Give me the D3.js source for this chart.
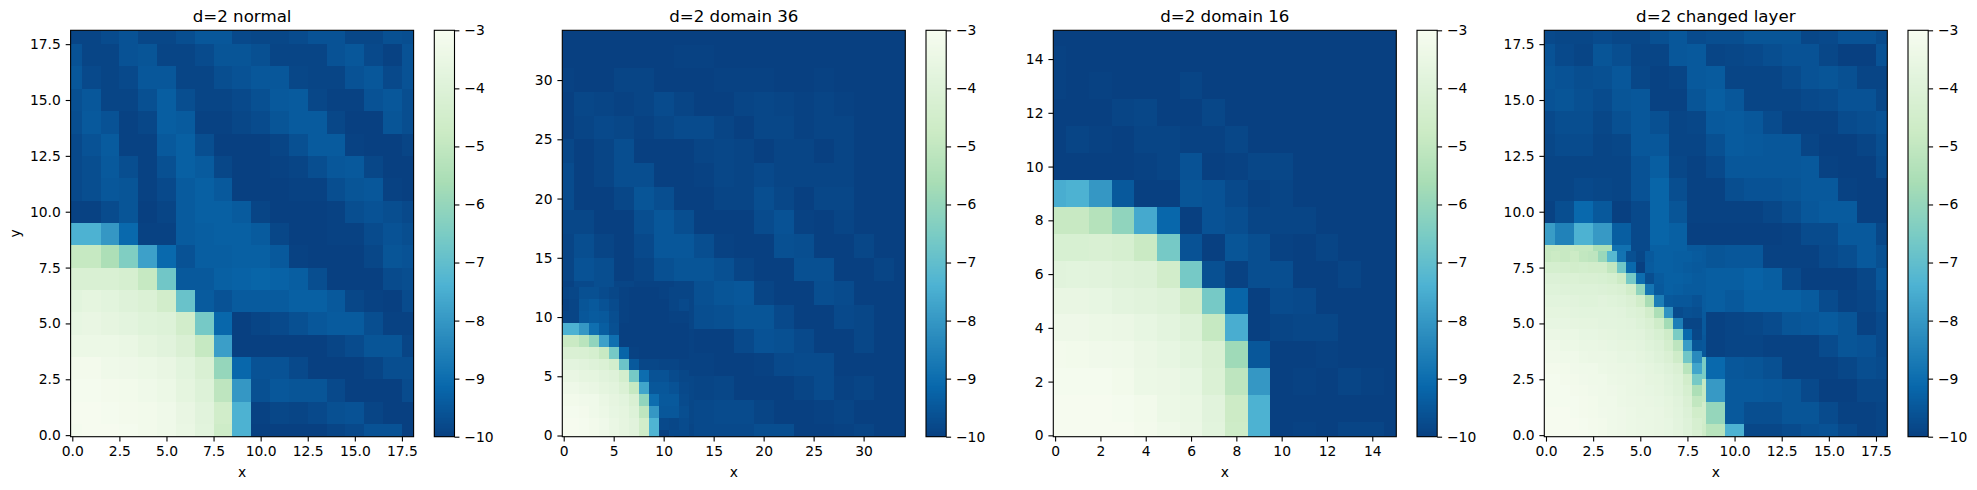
<!DOCTYPE html>
<html>
<head>
<meta charset="utf-8">
<script src="https://cdn.jsdelivr.net/npm/d3@7"></script>
<style>
    html, body { margin: 0; padding: 0; background: #fff; }
    text { font-family: "DejaVu Sans", sans-serif; fill: #000; }
    .tick line, .frame { stroke: #000; stroke-width: 1.1; }
    .frame { fill: none; }
    .cell { shape-rendering: crispEdges; }
</style>
</head>
<body>
<div id="chart"></div>
<script>
// all grids are listed top row first, left column first; null = hidden by the finer grid on top

// d=2 normal, cell centres 0..18
const normalGrid = [
    [-9.9,-9.9,-9.75,-9.6,-9.85,-9.85,-9.7,-9.5,-9.5,-9.8,-9.85,-9.85,-9.75,-9.6,-9.6,-9.85,-9.85,-9.65,-9.7],
    [-9.6,-9.9,-9.9,-9.6,-9.55,-9.9,-9.9,-9.75,-9.55,-9.55,-9.65,-9.9,-9.9,-9.9,-9.6,-9.5,-9.8,-9.95,-9.6],
    [-9.5,-9.8,-9.9,-9.8,-9.5,-9.5,-9.9,-9.9,-9.7,-9.6,-9.5,-9.5,-9.85,-9.9,-9.9,-9.6,-9.5,-9.8,-9.6],
    [-9.65,-9.5,-9.9,-9.9,-9.65,-9.35,-9.7,-9.9,-9.9,-9.8,-9.65,-9.45,-9.4,-9.85,-9.95,-9.95,-9.6,-9.5,-9.7],
    [-9.7,-9.45,-9.6,-9.95,-9.85,-9.35,-9.4,-9.95,-9.95,-9.85,-9.75,-9.55,-9.4,-9.4,-9.85,-10,-10,-9.55,-9.7],
    [-9.8,-9.6,-9.4,-9.95,-9.95,-9.45,-9.3,-9.7,-10,-10,-10,-9.9,-9.65,-9.4,-9.4,-9.95,-10,-10,-9.9],
    [-9.8,-9.7,-9.45,-9.7,-9.95,-9.65,-9.3,-9.4,-9.85,-10,-10,-9.95,-9.9,-9.7,-9.5,-9.45,-9.85,-10,-10],
    [-9.8,-9.7,-9.5,-9.55,-9.95,-9.8,-9.4,-9.3,-9.45,-10,-10,-10,-9.95,-9.95,-9.7,-9.55,-9.5,-9.95,-10],
    [-9.95,-9.95,-9.75,-9.55,-10,-9.9,-9.4,-9.3,-9.3,-9.4,-9.9,-10,-10,-10,-9.95,-9.7,-9.6,-9.7,-9.8],
    [-7.4,-7.4,-8,-9.1,-9.95,-9.95,-9.4,-9.35,-9.3,-9.3,-9.4,-9.85,-10,-10,-9.95,-9.95,-9.75,-9.6,-9.7],
    [-4.9,-4.9,-5.5,-6.4,-7.8,-9.1,-9.6,-9.35,-9.35,-9.3,-9.3,-9.45,-9.95,-10,-10,-10,-9.85,-9.55,-9.6],
    [-4.2,-4.2,-4.2,-4.3,-4.9,-6.7,-9.45,-9.45,-9.3,-9.25,-9.2,-9.25,-9.35,-9.7,-10,-10,-10,-9.75,-9.7],
    [-3.8,-3.7,-3.8,-3.95,-4.1,-4.5,-6.85,-9.4,-9.6,-9.4,-9.4,-9.4,-9.3,-9.3,-9.45,-9.85,-9.95,-10,-9.75],
    [-3.6,-3.55,-3.65,-3.75,-3.9,-4,-4.5,-6.6,-9.15,-10,-9.9,-9.8,-9.65,-9.5,-9.4,-9.4,-9.7,-9.95,-9.95],
    [-3.4,-3.4,-3.4,-3.5,-3.7,-3.85,-4.15,-4.9,-7.85,-10,-10,-10,-10,-10,-9.9,-9.75,-9.55,-9.55,-9.9],
    [-3.15,-3.15,-3.3,-3.35,-3.4,-3.55,-3.8,-4.2,-6,-9.15,-9.6,-9.6,-9.8,-10,-10,-10,-9.9,-9.7,-9.7],
    [-3.1,-3.1,-3.15,-3.2,-3.3,-3.4,-3.7,-4,-5.1,-8,-9.65,-9.5,-9.55,-9.55,-9.8,-10,-10,-10,-9.75],
    [-3.05,-3.05,-3.1,-3.15,-3.2,-3.3,-3.55,-3.85,-4.55,-7.4,-9.95,-9.85,-9.9,-9.8,-9.65,-9.6,-9.9,-10,-10],
    [-3.1,-3.05,-3.05,-3.1,-3.2,-3.3,-3.5,-3.8,-4.65,-7.4,-10,-10,-10,-10,-9.9,-9.8,-9.6,-9.6,-10]
];

// d=2 domain 36, coarse cell centres 0,2,..,34
const domain36Coarse = [
    [-10,-10,-10,-10,-10,-10,-10,-10,-10,-10,-10,-10,-10,-10,-10,-10,-10,-10],
    [-10,-10,-10,-10,-10,-10,-9.95,-9.95,-10,-10,-10,-10,-10,-10,-10,-10,-10,-10],
    [-9.95,-10,-10,-9.9,-9.9,-10,-10,-10,-9.95,-9.95,-9.95,-10,-10,-9.95,-10,-10,-10,-10],
    [-10,-9.85,-9.9,-9.95,-9.9,-9.75,-9.9,-10,-10,-9.9,-9.85,-9.9,-9.95,-9.9,-9.95,-10,-10,-10],
    [-10,-9.9,-9.8,-9.85,-9.95,-9.85,-9.75,-9.75,-9.9,-10,-9.85,-9.85,-9.95,-9.9,-9.9,-10,-10,-10],
    [-9.85,-10,-9.9,-9.7,-10,-10,-10,-9.9,-9.85,-9.9,-10,-9.9,-9.9,-10,-9.9,-10,-10,-10],
    [-9.75,-10,-9.9,-9.7,-9.7,-10,-10,-9.95,-9.85,-9.9,-9.8,-9.9,-9.9,-9.9,-9.9,-10,-10,-10],
    [-9.75,-10,-10,-9.85,-9.55,-9.7,-10,-10,-9.9,-9.9,-9.7,-9.85,-10,-9.85,-9.85,-10,-10,-10],
    [-9.85,-9.85,-10,-10,-9.7,-9.5,-9.7,-10,-10,-10,-9.75,-9.6,-9.95,-10,-9.9,-10,-10,-10],
    [-9.9,-9.7,-9.9,-10,-9.8,-9.5,-9.5,-9.7,-9.95,-10,-10,-9.65,-9.7,-10,-10,-9.85,-10,-10],
    [-9.9,-9.6,-9.7,-10,-9.9,-9.65,-9.55,-9.55,-9.65,-9.9,-10,-10,-9.65,-9.65,-10,-10,-9.9,-10],
    [-9.95,-9.8,-9.7,-9.9,-9.95,-9.95,-9.9,-9.65,-9.55,-9.5,-9.9,-10,-10,-9.7,-9.75,-10,-10,-10],
    [null,null,null,null,null,null,-9.9,-9.7,-9.65,-9.55,-9.55,-9.8,-10,-10,-9.8,-9.85,-10,-10],
    [null,null,null,null,null,null,-9.95,-10,-10,-9.8,-9.6,-9.65,-9.8,-10,-10,-9.85,-10,-10],
    [null,null,null,null,null,null,-9.95,-9.95,-10,-10,-9.95,-9.8,-9.75,-9.75,-10,-10,-10,-10],
    [null,null,null,null,null,null,-9.85,-9.9,-9.85,-10,-10,-10,-9.9,-9.75,-9.95,-9.9,-10,-10],
    [null,null,null,null,null,null,-9.85,-9.8,-9.75,-9.75,-9.9,-10,-10,-9.95,-9.9,-10,-10,-10],
    [null,null,null,null,null,null,-9.9,-9.8,-9.8,-9.8,-9.7,-9.7,-10,-10,-9.95,-9.9,-10,-10]
];

// d=2 domain 36, fine cell centres 0..12
const domain36Fine = [
    [-9.9,-9.85,-9.65,-9.65,-9.75,-9.85,-9.95,-10,-10,-10,-9.95,-9.9,-9.9],
    [-9.95,-9.9,-9.55,-9.45,-9.6,-9.75,-9.95,-10,-10,-10,-10,-9.9,-9.8],
    [-9.9,-9.9,-9.5,-9.4,-9.45,-9.7,-9.95,-10,-10,-10,-10,-9.95,-9.95],
    [-7.4,-7.4,-8,-8.95,-9.35,-9.65,-10,-10,-10,-10,-10,-10,-10],
    [-4.8,-4.8,-5.2,-6.1,-7.8,-8.95,-10,-10,-10,-10,-10,-10,-10],
    [-4.15,-4.15,-4.2,-4.35,-4.85,-6.6,-9.2,-9.95,-10,-10,-10,-10,-10],
    [-3.75,-3.75,-3.85,-3.95,-4.1,-4.45,-6.8,-9.45,-9.85,-9.85,-9.9,-9.9,-9.95],
    [-3.55,-3.55,-3.65,-3.7,-3.85,-3.95,-4.45,-6.6,-9,-9.6,-9.6,-9.75,-9.85],
    [-3.35,-3.35,-3.45,-3.55,-3.7,-3.8,-4.1,-4.9,-7.7,-9.5,-9.5,-9.6,-9.8],
    [-3.2,-3.2,-3.25,-3.3,-3.5,-3.65,-3.8,-4.2,-6.1,-9,-9.45,-9.45,-9.75],
    [-3.1,-3.1,-3.15,-3.3,-3.4,-3.6,-3.7,-4,-5.1,-8,-9.5,-9.5,-9.7],
    [-3.05,-3.05,-3.1,-3.2,-3.3,-3.5,-3.65,-3.85,-4.55,-7.35,-9.8,-9.85,-9.75],
    [-3.05,-3.05,-3.1,-3.2,-3.35,-3.5,-3.65,-3.85,-4.65,-7.35,-10,-9.8,-9.8]
];

// d=2 domain 16, cell centres 0..15
const domain16Grid = [
    [-10,-10,-10,-10,-10,-10,-10,-10,-10,-10,-10,-10,-10,-10,-10,-10],
    [-9.95,-10,-10,-10,-10,-10,-10,-10,-10,-10,-10,-10,-10,-10,-10,-10],
    [-9.95,-10,-9.95,-10,-10,-10,-9.9,-10,-10,-10,-10,-10,-10,-10,-10,-10],
    [-10,-10,-10,-9.9,-9.85,-10,-10,-9.85,-10,-10,-10,-10,-10,-10,-10,-10],
    [-10,-9.9,-9.95,-10,-9.9,-9.9,-9.95,-9.95,-9.85,-10,-10,-10,-10,-10,-10,-10],
    [-10,-10,-10,-10,-9.95,-9.9,-9.6,-10,-9.95,-9.85,-9.85,-10,-10,-10,-10,-10],
    [-7.5,-7.4,-8,-9.45,-10,-10,-9.55,-9.6,-9.8,-9.95,-9.9,-10,-10,-10,-10,-10],
    [-4.85,-4.85,-5.3,-6.1,-7.6,-9.15,-10,-9.6,-9.7,-9.9,-9.9,-9.9,-10,-10,-10,-10],
    [-4.25,-4.25,-4.2,-4.3,-4.8,-6.6,-9.6,-10,-9.55,-9.7,-9.95,-10,-9.9,-10,-10,-10],
    [-3.85,-3.8,-3.85,-3.95,-4.05,-4.5,-6.6,-9.65,-9.95,-9.7,-9.7,-10,-10,-9.9,-10,-10],
    [-3.55,-3.55,-3.6,-3.75,-3.85,-3.95,-4.5,-6.6,-9.2,-10,-9.75,-9.8,-10,-10,-10,-10],
    [-3.35,-3.35,-3.4,-3.45,-3.6,-3.75,-4,-4.9,-7.5,-10,-9.9,-9.85,-9.85,-10,-10,-10],
    [-3.15,-3.2,-3.25,-3.3,-3.45,-3.6,-3.8,-4.2,-5.8,-9.5,-10,-10,-9.95,-10,-10,-10],
    [-3.1,-3.1,-3.1,-3.2,-3.4,-3.45,-3.6,-4.1,-5.1,-8,-10,-9.95,-10,-9.9,-9.95,-10],
    [-3.05,-3.05,-3.05,-3.1,-3.2,-3.4,-3.5,-3.85,-4.7,-7.4,-10,-10,-10,-10,-10,-10],
    [-3.05,-3.05,-3.05,-3.05,-3.15,-3.3,-3.45,-3.8,-4.65,-7.4,-10,-9.95,-10,-9.9,-9.9,-10]
];

// d=2 changed layer, coarse cell centres 0..18
const changedCoarse = [
    [-9.8,-9.85,-9.85,-9.75,-9.85,-9.85,-9.65,-9.5,-9.75,-9.7,-9.7,-9.55,-9.55,-9.55,-9.85,-9.8,-9.6,-9.6,-9.75],
    [-9.6,-9.8,-9.9,-9.55,-9.7,-9.9,-9.9,-9.5,-9.45,-9.9,-9.85,-9.8,-9.7,-9.6,-9.6,-9.85,-10,-10,-9.6],
    [-9.55,-9.6,-9.7,-9.65,-9.5,-9.85,-9.95,-9.9,-9.45,-9.4,-9.9,-9.9,-9.9,-9.75,-9.6,-9.55,-9.65,-9.9,-9.9],
    [-9.6,-9.55,-9.65,-9.75,-9.55,-9.5,-9.95,-9.95,-9.55,-9.35,-9.5,-9.9,-9.9,-9.9,-9.8,-9.75,-9.6,-9.6,-9.85],
    [-9.8,-9.7,-9.7,-9.85,-9.65,-9.5,-9.65,-9.9,-9.85,-9.45,-9.4,-9.5,-9.75,-9.95,-9.95,-9.95,-9.75,-9.7,-9.6],
    [-9.85,-9.75,-9.75,-9.9,-9.85,-9.5,-9.5,-9.9,-9.9,-9.65,-9.4,-9.45,-9.5,-9.5,-9.9,-10,-10,-9.9,-9.7],
    [-9.9,-9.9,-9.9,-9.9,-9.9,-9.6,-9.35,-9.85,-9.95,-9.8,-9.5,-9.5,-9.5,-9.5,-9.45,-9.95,-10,-10,-9.75],
    [-9.9,-9.9,-9.8,-9.85,-9.9,-9.6,-9.2,-9.7,-9.95,-9.95,-9.7,-9.6,-9.6,-9.55,-9.45,-9.45,-9.95,-10,-10],
    [-9.95,-9.7,-9.1,-9.45,-10,-9.8,-9.2,-9.55,-9.95,-9.95,-9.95,-9.95,-9.85,-9.7,-9.5,-9.4,-9.4,-10,-10],
    [-7.9,-8.5,-7.4,-7.95,-9.35,-9.8,-9.2,-9.3,-10,-10,-10,-10,-10,-9.95,-9.75,-9.75,-9.45,-9.45,-9.85],
    [-4.9,-4.85,-4.95,-5.5,-8.9,-9.8,-9.3,-9.3,-9.45,-9.55,-9.5,-9.5,-9.95,-9.95,-9.95,-9.8,-9.7,-9.45,-9.65],
    [null,null,null,null,null,null,null,null,-9.4,-9.35,-9.35,-9.25,-9.35,-9.8,-10,-10,-10,-9.85,-9.5],
    [null,null,null,null,null,null,null,null,-9.4,-9.35,-9.45,-9.3,-9.3,-9.3,-9.4,-9.75,-9.95,-9.9,-9.7],
    [null,null,null,null,null,null,null,null,-9.45,-9.95,-9.9,-9.85,-9.75,-9.55,-9.5,-9.4,-9.55,-9.95,-9.8],
    [null,null,null,null,null,null,null,null,-9.5,-9.95,-9.9,-9.9,-9.95,-9.95,-9.95,-9.75,-9.55,-9.6,-9.8],
    [null,null,null,null,null,null,null,null,-6.5,-9.1,-9.5,-9.55,-9.65,-9.95,-9.95,-9.95,-9.85,-9.7,-9.75],
    [null,null,null,null,null,null,null,null,-4.9,-7.95,-9.45,-9.45,-9.5,-9.55,-9.8,-10,-10,-9.85,-9.85],
    [null,null,null,null,null,null,null,null,-4.5,-6,-9.45,-9.7,-9.7,-9.55,-9.55,-9.75,-9.95,-9.95,-9.9],
    [null,null,null,null,null,null,null,null,-4.6,-5.2,-7.4,-9.85,-9.85,-9.75,-9.65,-9.6,-9.8,-9.95,-9.9]
];

// d=2 changed layer, fine cell centres 0,0.5,..,8
const changedFine = [
    [-4.85,-4.75,-4.85,-4.7,-5,-5.1,-5.9,-7.2,-8.85,-9.65,-9.85,-9.45,-9.3,-9.3,-9.35,-9.35,-9.4],
    [-4.35,-4.35,-4.4,-4.5,-4.45,-4.5,-4.5,-5,-6.7,-9.1,-10,-9.4,-9.3,-9.3,-9.35,-9.4,-9.45],
    [-4.05,-4.05,-4.1,-4.1,-4.2,-4.2,-4.25,-4.35,-4.7,-6.6,-9,-9.7,-9.4,-9.3,-9.3,-9.35,-9.4],
    [-3.9,-3.9,-3.95,-4,-4,-4,-4.05,-4.1,-4.2,-4.55,-6.1,-8.8,-9.45,-9.3,-9.35,-9.4,-9.4],
    [-3.8,-3.8,-3.8,-3.85,-3.9,-3.9,-3.85,-3.9,-4,-4.15,-4.55,-5.6,-8.6,-9.45,-9.5,-9.5,-9.6],
    [-3.7,-3.7,-3.7,-3.75,-3.8,-3.8,-3.8,-3.8,-3.85,-4,-4.1,-4.5,-5.5,-8.1,-9.75,-9.65,-9.7],
    [-3.6,-3.6,-3.6,-3.65,-3.7,-3.7,-3.75,-3.75,-3.8,-3.85,-4,-4.2,-4.6,-5.7,-8.6,-9.9,-9.9],
    [-3.45,-3.45,-3.5,-3.5,-3.6,-3.6,-3.65,-3.7,-3.75,-3.8,-3.85,-4.05,-4.25,-4.6,-6.5,-9.1,-9.85],
    [-3.3,-3.3,-3.4,-3.4,-3.5,-3.5,-3.55,-3.6,-3.65,-3.7,-3.75,-3.9,-4.05,-4.4,-5.1,-7.9,-9.55],
    [-3.25,-3.25,-3.3,-3.3,-3.4,-3.45,-3.45,-3.5,-3.6,-3.6,-3.7,-3.8,-3.95,-4.15,-4.6,-6.7,-8.3],
    [-3.15,-3.15,-3.2,-3.25,-3.3,-3.3,-3.4,-3.45,-3.5,-3.55,-3.6,-3.7,-3.8,-3.95,-4.15,-5.2,-7.7],
    [-3.1,-3.1,-3.15,-3.2,-3.25,-3.3,-3.3,-3.4,-3.45,-3.5,-3.55,-3.65,-3.7,-3.85,-4,-4.5,-6.6],
    [-3.1,-3.1,-3.1,-3.15,-3.2,-3.25,-3.3,-3.35,-3.4,-3.5,-3.55,-3.6,-3.65,-3.8,-3.95,-4.3,-5.5],
    [-3.1,-3.1,-3.1,-3.1,-3.15,-3.2,-3.3,-3.3,-3.4,-3.45,-3.5,-3.55,-3.6,-3.7,-3.85,-4.15,-5],
    [-3.05,-3.05,-3.05,-3.1,-3.15,-3.2,-3.25,-3.3,-3.35,-3.4,-3.5,-3.5,-3.55,-3.65,-3.8,-4.05,-4.55],
    [-3.05,-3.05,-3.05,-3.05,-3.1,-3.15,-3.2,-3.3,-3.35,-3.4,-3.45,-3.5,-3.55,-3.6,-3.75,-3.95,-4.3],
    [-3.05,-3.05,-3.05,-3.05,-3.05,-3.1,-3.2,-3.3,-3.35,-3.4,-3.45,-3.5,-3.55,-3.6,-3.7,-3.9,-4.2]
];

const ticks18 = [0, 2.5, 5, 7.5, 10, 12.5, 15, 17.5];
const ticks36 = [0, 5, 10, 15, 20, 25, 30];
const ticks16 = [0, 2, 4, 6, 8, 10, 12, 14];
const colorbarTicks = [-3, -4, -5, -6, -7, -8, -9, -10];

// GnBu reversed, spread over -10..-3
const gnbuStops = ["#084081", "#0868ac", "#2b8cbe", "#4eb3d3", "#7bccc4", "#a8ddb5", "#ccebc5", "#e0f3db", "#f7fcf0"];

const panels = [
    {title: "d=2 normal", left: 70.6, xLim: [-0.09, 18.12], yLim: [-0.07, 18.12], ticks: ticks18, fmt: d3.format(".1f"),
        grids: [{rows: normalGrid, step: 1}], yLabel: true},
    {title: "d=2 domain 36", left: 562.3, xLim: [-0.14, 34.17], yLim: [-0.1, 34.2], ticks: ticks36, fmt: d3.format("d"),
        grids: [{rows: domain36Coarse, step: 2}, {rows: domain36Fine, step: 1}]},
    {title: "d=2 domain 16", left: 1053.3, xLim: [-0.08, 15.06], yLim: [-0.05, 15.07], ticks: ticks16, fmt: d3.format("d"),
        grids: [{rows: domain16Grid, step: 1}]},
    {title: "d=2 changed layer", left: 1544.3, xLim: [-0.09, 18.1], yLim: [-0.07, 18.12], ticks: ticks18, fmt: d3.format(".1f"),
        grids: [{rows: changedCoarse, step: 1}, {rows: changedFine, step: 0.5}]}
];

const width = 1977, height = 490;
const top_ = 30.3, bottom = 436.7, panelWidth = 343;
const cbarGap = 20.7, cbarWidth = 20.2;
const tickFont = "13.89px", titleFont = "16.67px";

const svg = d3.select("#chart").append("svg")
    .attr("width", width)
    .attr("height", height)
    .style("display", "block");

const color = d3.scaleLinear()
    .domain(d3.range(9).map(i => -10 + i * 7 / 8))
    .range(gnbuStops)
    .clamp(true);

panels.forEach(function(p, idx) {
    let g = svg.append("g").attr("transform", `translate(${p.left},${top_})`);
    let h = bottom - top_;

    let x = d3.scaleLinear().domain(p.xLim).range([0, panelWidth]);
    let y = d3.scaleLinear().domain(p.yLim).range([h, 0]);

    g.append("clipPath").attr("id", "clip" + idx)
        .append("rect").attr("width", panelWidth).attr("height", h);

    let cells = g.append("g").attr("clip-path", `url(#clip${idx})`);

    // coarse grid first, the finer one goes over it
    p.grids.forEach(function(grid) {
        let n = grid.rows.length;
        grid.rows.forEach(function(row, r) {
            let cy = (n - 1 - r) * grid.step;
            row.forEach(function(v, c) {
                if (v === null) return;
                let cx = c * grid.step;
                cells.append("rect")
                    .attr("class", "cell")
                    .attr("x", x(cx - grid.step / 2))
                    .attr("y", y(cy + grid.step / 2))
                    .attr("width", x(cx + grid.step / 2) - x(cx - grid.step / 2))
                    .attr("height", y(cy - grid.step / 2) - y(cy + grid.step / 2))
                    .attr("fill", color(v));
            });
        });
    });

    g.append("rect").attr("class", "frame").attr("width", panelWidth).attr("height", h);

    // axes
    let xAxis = g.append("g").attr("transform", `translate(0,${h})`)
        .call(d3.axisBottom(x).tickValues(p.ticks).tickFormat(p.fmt).tickSize(4.9).tickPadding(4.9));
    let yAxis = g.append("g")
        .call(d3.axisLeft(y).tickValues(p.ticks).tickFormat(p.fmt).tickSize(4.9).tickPadding(4.9));
    [xAxis, yAxis].forEach(a => {
        a.select(".domain").remove();
        a.selectAll("text").style("font-size", tickFont).style("font-family", '"DejaVu Sans"');
    });

    g.append("text")
        .attr("x", panelWidth / 2)
        .attr("y", -8.5)
        .attr("text-anchor", "middle")
        .style("font-size", titleFont)
        .text(p.title);

    g.append("text")
        .attr("x", panelWidth / 2)
        .attr("y", h + 40)
        .attr("text-anchor", "middle")
        .style("font-size", tickFont)
        .text("x");

    if (p.yLabel) {
        g.append("text")
            .attr("transform", `translate(${-50.5},${h / 2}) rotate(-90)`)
            .attr("text-anchor", "middle")
            .style("font-size", tickFont)
            .text("y");
    }

    // colorbar
    let cb = svg.append("g").attr("transform", `translate(${p.left + panelWidth + cbarGap},${top_})`);
    let cbScale = d3.scaleLinear().domain([-10, -3]).range([h, 0]);
    let levels = d3.range(256).map(i => -10 + 7 * i / 256);

    cb.selectAll("rect.level")
        .data(levels)
        .enter()
        .append("rect")
        .attr("class", "level cell")
        .attr("width", cbarWidth)
        .attr("y", d => cbScale(d + 7 / 256))
        .attr("height", d => cbScale(d) - cbScale(d + 7 / 256) + 0.5)
        .attr("fill", d => color(d + 3.5 / 256));

    cb.append("rect").attr("class", "frame").attr("width", cbarWidth).attr("height", h);

    let cbAxis = cb.append("g").attr("transform", `translate(${cbarWidth},0)`)
        .call(d3.axisRight(cbScale).tickValues(colorbarTicks).tickFormat(d3.format("d")).tickSize(4.9).tickPadding(4.9));
    cbAxis.select(".domain").remove();
    cbAxis.selectAll("text").style("font-size", tickFont).style("font-family", '"DejaVu Sans"');
});
</script>
</body>
</html>
